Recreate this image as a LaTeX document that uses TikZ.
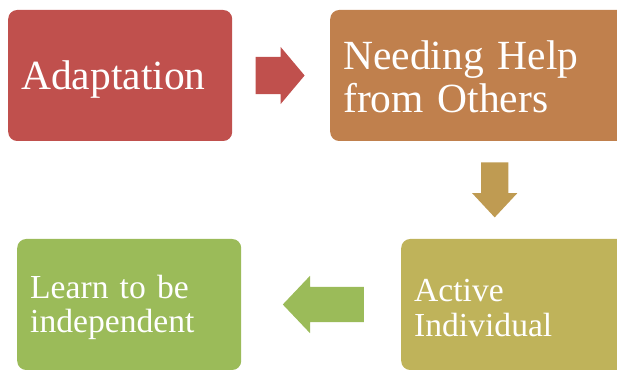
\documentclass[tikz,border=0pt]{standalone}
\usepackage{fontspec}
\setmainfont{Liberation Serif}
\usepackage{xcolor}
\usetikzlibrary{shapes.arrows, positioning, calc}

\definecolor{adaptred}{HTML}{C0504D}
\definecolor{helpbrown}{HTML}{C0804D}
\definecolor{downgold}{HTML}{BF9B52}
\definecolor{activeolive}{HTML}{BFB35A}
\definecolor{learngreen}{HTML}{9BBB59}

\begin{document}
\begin{tikzpicture}[x=1pt, y=1pt,
    box/.style={rectangle, rounded corners=9pt, minimum height=131pt, inner xsep=13pt, inner ysep=0pt, text=white, align=left, anchor=west},
    big/.style={font=\fontsize{41.5}{43}\selectfont},
    small/.style={font=\fontsize{33.6}{34.5}\selectfont, text height=29pt},
    blockarrow/.style={single arrow, draw=none, inner sep=0pt, anchor=tail}
]
    \clip (0,0) rectangle (617,369);

    \node[box, big, fill=adaptred, text width=198pt, text depth=0pt] (adapt) at (8,293.5) {Adaptation};
    \node[box, big, fill=helpbrown, text width=303pt, text height=32pt] (help) at (330,293.5) {Needing Help\\from Others};
    \node[box, small, fill=activeolive, text width=234pt] (active) at (401,64.5) {Active\\Individual};
    \node[box, small, fill=learngreen, text width=198pt] (learn) at (17,64.5) {Learn to be\\independent};

    \node[blockarrow, fill=adaptred, inner ysep=18.5pt, minimum height=49pt, minimum width=57pt, single arrow head extend=10pt, single arrow tip angle=100] (arrA) at ($(adapt.east)+(23,0)$) {};
    \node[blockarrow, fill=downgold, inner xsep=13.5pt, minimum height=55pt, minimum width=45pt, single arrow head extend=9pt, single arrow tip angle=86, shape border rotate=270] (arrB) at ($(help.south)+(0,-21)$) {};
    \node[blockarrow, fill=learngreen, inner ysep=17.5pt, minimum height=81pt, minimum width=57pt, single arrow head extend=11pt, single arrow tip angle=93, shape border rotate=180] (arrC) at ($(active.west)+(-37,0)$) {};
\end{tikzpicture}
\end{document}
